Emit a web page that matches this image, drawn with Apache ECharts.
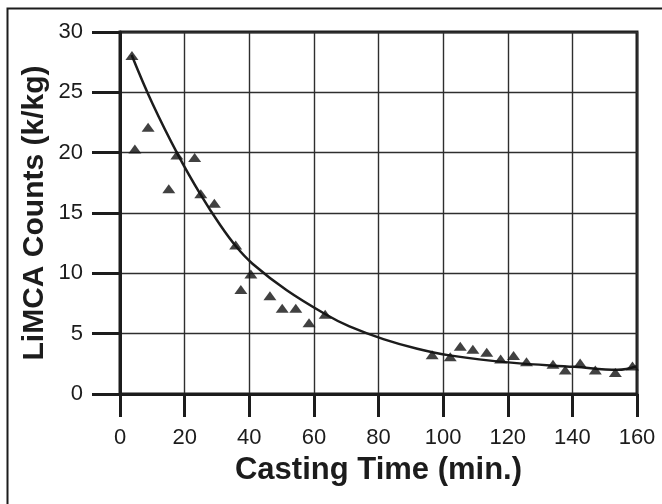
<!DOCTYPE html>
<html>
<head>
<meta charset="utf-8">
<script src="https://cdn.jsdelivr.net/npm/echarts@6/dist/echarts.min.js"></script>
<style>
  html, body { margin: 0; padding: 0; background: #ffffff; }
  #chart { width: 662px; height: 504px; }
</style>
</head>
<body>
<div id="chart"></div>
<script>
// Measured LiMCA inclusion counts during casting
const castingTime = [3.7, 4.6, 8.7, 15.1, 17.6, 23.1, 25.0, 29.2, 35.8, 37.4, 40.5, 46.4, 50.2, 54.4, 58.5, 63.5,
  96.6, 102.2, 105.3, 109.2, 113.5, 117.8, 121.8, 125.8, 134.0, 137.8, 142.4, 147.1, 153.3, 158.6];
const limcaCounts = [28.05, 20.3, 22.1, 17.0, 19.8, 19.6, 16.6, 15.8, 12.35, 8.65, 9.95, 8.15, 7.1, 7.1, 5.9, 6.6,
  3.25, 3.08, 3.95, 3.7, 3.45, 2.9, 3.2, 2.68, 2.46, 1.99, 2.56, 1.99, 1.78, 2.32];

// Fitted decay curve
const fitTime = [3.6, 10, 18, 25, 31, 36, 41, 51.6, 64, 71, 81.5, 92, 102, 121, 140.6, 154, 160];
const fitCounts = [28.1, 24.1, 19.8, 16.5, 14.0, 12.2, 10.8, 8.6, 6.55, 5.6, 4.55, 3.75, 3.2, 2.6, 2.25, 2.0, 2.3];

// Axis ranges and tick spacing
const xRange = [0, 160], xStep = 20;
const yRange = [0, 30], yStep = 5;

const ink = '#1c1c1c';
const font = '"Liberation Sans", Arial, Helvetica, sans-serif';

const chart = echarts.init(document.getElementById('chart'), null, { renderer: 'canvas' });

chart.setOption({
  backgroundColor: '#ffffff',
  animation: false,
  graphic: [{
    type: 'polyline',
    shape: { points: [[7.5, 504], [7.5, 8.5], [662, 8.5]] },
    style: { stroke: ink, lineWidth: 2, fill: null },
    silent: true
  }],
  grid: {
    left: 120, right: 25, top: 32, bottom: 110,
    show: true, borderColor: ink, borderWidth: 3, backgroundColor: 'transparent'
  },
  xAxis: {
    type: 'value',
    min: xRange[0], max: xRange[1], interval: xStep,
    name: 'Casting Time (min.)',
    nameLocation: 'middle',
    nameGap: 61,
    nameMoveOverlap: false,
    nameTextStyle: { color: ink, fontFamily: font, fontWeight: 'bold', fontSize: 31, verticalAlign: 'top' },
    axisLine: { show: true, onZero: false, lineStyle: { color: ink, width: 3 } },
    axisTick: { show: true, inside: false, length: 23, lineStyle: { color: ink, width: 3 } },
    axisLabel: { color: ink, fontFamily: font, fontSize: 22, margin: 33 },
    splitLine: { show: true, lineStyle: { color: '#2e2e2e', width: 1.4 } }
  },
  yAxis: {
    type: 'value',
    min: yRange[0], max: yRange[1], interval: yStep,
    name: 'LiMCA Counts (k/kg)',
    nameLocation: 'middle',
    nameGap: 70,
    nameMoveOverlap: false,
    nameTextStyle: { color: ink, fontFamily: font, fontWeight: 'bold', fontSize: 30 },
    axisLine: { show: true, lineStyle: { color: ink, width: 3 } },
    axisTick: { show: true, inside: false, length: 28, lineStyle: { color: ink, width: 3 } },
    axisLabel: { color: ink, fontFamily: font, fontSize: 22, margin: 37 },
    splitLine: { show: true, lineStyle: { color: '#2e2e2e', width: 1.4 } }
  },
  series: [
    {
      name: 'fit',
      type: 'line',
      data: fitTime.map((t, i) => [t, fitCounts[i]]),
      smooth: 0.4,
      showSymbol: false,
      symbol: 'none',
      lineStyle: { color: ink, width: 2.5 },
      z: 3
    },
    {
      name: 'measured',
      type: 'scatter',
      data: castingTime.map((t, i) => [t, limcaCounts[i]]),
      symbol: 'triangle',
      symbolSize: [13, 9],
      itemStyle: { color: '#111111' },
      z: 4
    }
  ]
});
</script>
</body>
</html>
